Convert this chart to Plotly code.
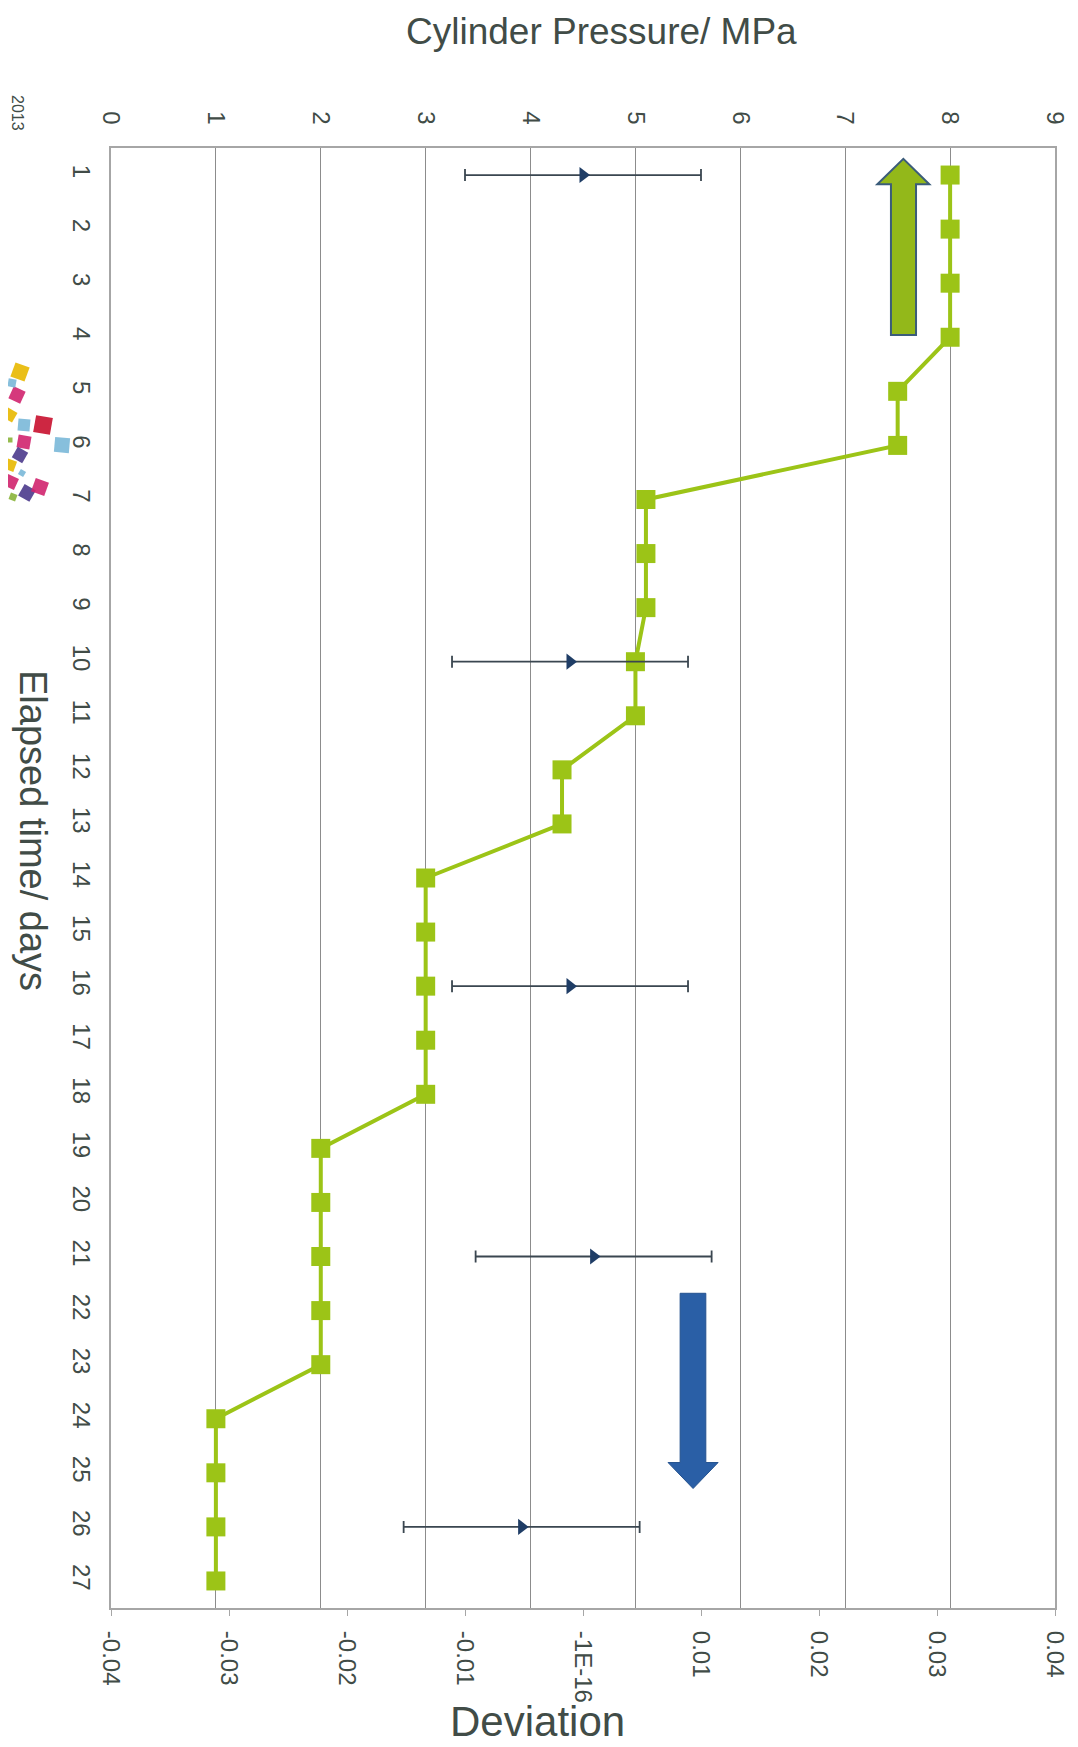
import math
import plotly.graph_objects as go

# ---------------- data ----------------
days = list(range(1, 28))
pressure = [8.0, 8.0, 8.0, 8.0, 7.5, 7.5, 5.1, 5.1, 5.1, 5.0, 5.0, 4.3, 4.3,
            3.0, 3.0, 3.0, 3.0, 3.0, 2.0, 2.0, 2.0, 2.0, 2.0, 1.0, 1.0, 1.0, 1.0]

dev_days = [1, 10, 16, 21, 26]
deviation = [0.0, -0.0011, -0.0011, 0.0009, -0.0052]
dev_err = [0.01, 0.01, 0.01, 0.01, 0.01]

pressure_ticks = list(range(0, 10))
dev_tickvals = [-0.04, -0.03, -0.02, -0.01, 0.0, 0.01, 0.02, 0.03, 0.04]
dev_ticktext = ["-0.04", "-0.03", "-0.02", "-0.01", "-1E-16", "0.01", "0.02", "0.03", "0.04"]

TXT = "#414c47"
FONT = "Liberation Sans, Arial, sans-serif"
GREEN = "#9cc417"

# page has an 8px body margin; plot area wanted at page px 111..1055 x 148..1608
OFF = 8
W, H = 1078, 1747
PL, PT, PR, PB = 111, 148, 1055, 1608
PW, PH = PR - PL, PB - PT
L, T = PL - OFF, PT - OFF
R, B = W - L - PW, H - T - PH


def px2paper(px, py):
    return (px - PL) / PW, (PB - py) / PH


fig = go.Figure()

fig.add_trace(go.Scatter(
    x=pressure, y=days, xaxis="x", yaxis="y", mode="lines+markers",
    line=dict(color=GREEN, width=4),
    marker=dict(symbol="square", size=19, color=GREEN),
    showlegend=False, cliponaxis=False,
))

fig.add_trace(go.Scatter(
    x=deviation, y=dev_days, xaxis="x2", yaxis="y", mode="markers",
    marker=dict(symbol="triangle-right", size=14, color="#1f3d66"),
    error_x=dict(type="data", array=dev_err, visible=True,
                 color="#3a4650", thickness=1.8, width=6),
    showlegend=False,
))

shapes = []
# green arrow (data coords)
gx0, gx1, ghl, ghr = 7.436, 7.675, 7.306, 7.802
gtip, gbase, gbot = 0.70, 1.17, 3.96
gmid = (ghl + ghr) / 2
shapes.append(dict(
    type="path", xref="x", yref="y",
    path=f"M {gx0} {gbot} L {gx0} {gbase} L {ghl} {gbase} L {gmid} {gtip} "
         f"L {ghr} {gbase} L {gx1} {gbase} L {gx1} {gbot} Z",
    fillcolor="#93b81a", line=dict(color="#3b5c7a", width=2), layer="above"))
# blue arrow
bx0, bx1, bhl, bhr = 5.426, 5.671, 5.311, 5.788
btop, bbase, btip = 21.68, 24.81, 25.29
bmid = (bhl + bhr) / 2
shapes.append(dict(
    type="path", xref="x", yref="y",
    path=f"M {bx0} {btop} L {bx0} {bbase} L {bhl} {bbase} L {bmid} {btip} "
         f"L {bhr} {bbase} L {bx1} {bbase} L {bx1} {btop} Z",
    fillcolor="#2a5fa6", line=dict(color="#24528f", width=1), layer="above"))

# logo confetti squares (page pixel centre, size, angle, colour)
LOGO_DX = 7
logo = [
    (13, 372, 15, 20, "#e8b800"), (10, 395, 13, 25, "#d0246e"), (5, 383, 8, 10, "#7ab8d8"),
    (3, 415, 11, 30, "#e8b800"), (36, 425, 17, 10, "#c8102e"), (17, 425, 12, 5, "#7ab8d8"),
    (55, 445, 15, 5, "#7ab8d8"), (17, 442, 13, 10, "#d0246e"), (13, 455, 12, 30, "#4b3a8c"),
    (3, 465, 11, 20, "#e8b800"), (3, 440, 5, 0, "#8ab43a"), (4, 482, 12, 25, "#d0246e"),
    (20, 493, 13, 30, "#4b3a8c"), (33, 487, 14, 20, "#d0246e"), (15, 473, 6, 30, "#7ab8d8"),
    (6, 497, 7, 20, "#8ab43a"),
]
for cx, cy, s, ang, col in logo:
    a = math.radians(ang)
    pts = []
    for dx, dy in [(-1, -1), (1, -1), (1, 1), (-1, 1)]:
        rx = (dx * math.cos(a) - dy * math.sin(a)) * s / 2
        ry = (dx * math.sin(a) + dy * math.cos(a)) * s / 2
        pts.append(px2paper(cx + LOGO_DX + rx, cy + ry))
    path = "M " + " L ".join(f"{p[0]:.5f} {p[1]:.5f}" for p in pts) + " Z"
    shapes.append(dict(type="path", xref="paper", yref="paper", path=path,
                       fillcolor=col, line=dict(width=0), opacity=0.9))

annotations = []
for text, px, py, size, ang in [
    ("Cylinder Pressure/ MPa", 601, 32, 37, 0),
    ("Deviation", 537, 1721, 42, 0),
    ("Elapsed time/ days", 33, 830, 38, 90),
    ("2013", 18, 113, 16, 90),
]:
    xp, yp = px2paper(px, py)
    annotations.append(dict(text=text, x=xp, y=yp, xref="paper", yref="paper",
                            showarrow=False, textangle=ang, xanchor="center",
                            yanchor="middle", font=dict(size=size, color=TXT, family=FONT)))

fig.update_layout(
    width=W, height=H,
    margin=dict(l=L, r=R, t=T, b=B),
    paper_bgcolor="white", plot_bgcolor="white",
    font=dict(family=FONT, color=TXT),
    xaxis=dict(
        side="top", range=[0, 9], tickvals=pressure_ticks, tickangle=90,
        showgrid=True, gridcolor="#8c8c8c", gridwidth=1.2, zeroline=False,
        showline=True, linecolor="#a6a6a6", linewidth=2, automargin=False,
        tickfont=dict(size=24, color=TXT), ticks="", ticklabelstandoff=13,
    ),
    xaxis2=dict(
        overlaying="x", side="bottom", anchor="y", range=[-0.04, 0.04],
        tickvals=dev_tickvals, ticktext=dev_ticktext, tickangle=90,
        showgrid=False, zeroline=False, showline=True, linecolor="#a6a6a6",
        linewidth=2, ticks="outside", ticklen=6, tickcolor="#a6a6a6",
        automargin=False,
        tickfont=dict(size=24, color=TXT), ticklabelstandoff=10,
    ),
    yaxis=dict(
        range=[27.5, 0.5], tickvals=days, tickangle=90, showgrid=False,
        zeroline=False, showline=True, linecolor="#a6a6a6", linewidth=2,
        mirror=True, tickfont=dict(size=24, color=TXT), ticks="",
        ticklabelstandoff=7, automargin=False,
    ),
    shapes=shapes, annotations=annotations,
)

fig.write_html("out.html")
